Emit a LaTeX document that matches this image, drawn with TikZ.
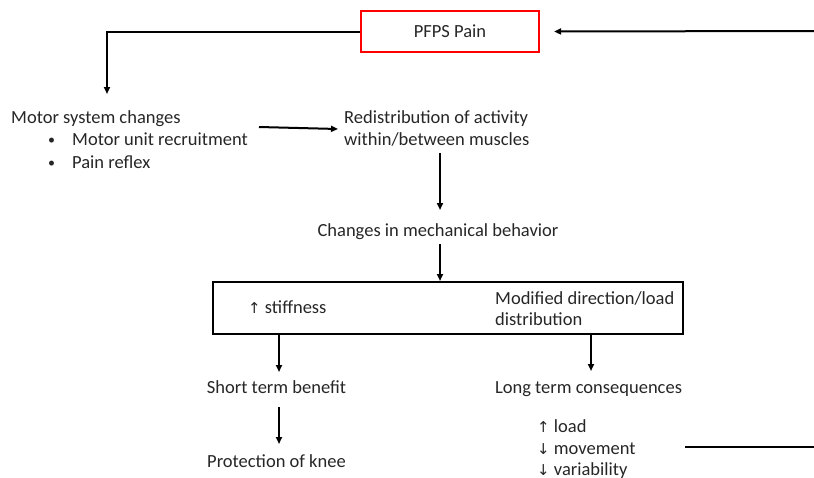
\documentclass[tikz,border=0pt]{standalone}
\usepackage{fontspec}
\setmainfont{Carlito}
\newfontfamily\arrfont{DejaVu Sans}
\usetikzlibrary{arrows.meta}
\begin{document}
\begin{tikzpicture}[x=1pt,y=-1pt,
  txt/.style={font=\fontsize{18.5}{22}\selectfont, inner sep=0pt, anchor=base west, text=black!85},
  conn/.style={line width=2pt, -{Triangle[length=7pt,width=6pt]}},
  plain/.style={line width=2pt}]
\useasboundingbox (0,0) rectangle (814,477);
\node[draw=red, line width=2.2pt, minimum width=178pt, minimum height=41pt, inner sep=0pt,
  font=\fontsize{18.5}{22}\selectfont, text=black!85] (pfps) at (450,31.5) {PFPS Pain};
\coordinate (rightin) at (814,31);
\coordinate (rightlow) at (814,447);
\coordinate (tomotor) at (107,94);
\node[txt] (motor) at (11,123) {Motor system changes};
\node[txt] (b1dot) at (48,144) {\fontsize{14}{16}\selectfont •};
\node[txt] (b1) at (72,145) {Motor unit recruitment};
\node[txt] (b2dot) at (48,167) {\fontsize{14}{16}\selectfont •};
\node[txt] (b2) at (72,168) {Pain reflex};
\node[txt] (redis1) at (344,123) {Redistribution of activity};
\node[txt] (redis2) at (344,145) {within/between muscles};
\coordinate (redisout) at (440,153);
\node[txt, anchor=base] (mech) at (438,236) {Changes in mechanical behavior};
\node[draw, line width=2pt, minimum width=470pt, minimum height=52pt, inner sep=0pt] (box) at (448,308) {};
\node[txt] (stiff) at (248,313) {{\arrfont\fontsize{15}{16}\selectfont ↑} stiffness};
\node[txt] (mod1) at (495,304) {Modified direction/load};
\node[txt] (mod2) at (495,325) {distribution};
\node[txt, anchor=base] (short) at (276.5,393) {Short term benefit};
\node[txt, anchor=base] (long) at (588.5,393) {Long term consequences};
\node[txt, anchor=base] (prot) at (276.5,467) {Protection of knee};
\node[txt] (load) at (537,432) {{\arrfont\fontsize{15}{16}\selectfont ↑} load};
\node[txt] (mov) at (537,454) {{\arrfont\fontsize{15}{16}\selectfont ↓} movement};
\node[txt] (var) at (537,475) {{\arrfont\fontsize{15}{16}\selectfont ↓} variability};
\coordinate (movout) at (685,447);
% connectors
\draw[conn] (pfps.west) -| (tomotor);
\draw[conn] (rightin) -- ([xshift=14pt]pfps.east);
\draw[conn] (259,127) -- (338,129);
\draw[conn] (redisout) -- (440,210);
\draw[conn] (440,244) -- (box.north -| 440,0);
\draw[conn] (279,334) -- (279,372);
\draw[conn] (591,334) -- (591,371);
\draw[conn] (279,407) -- (279,444);
\draw[plain] (movout) -- (rightlow);
\end{tikzpicture}
\end{document}
